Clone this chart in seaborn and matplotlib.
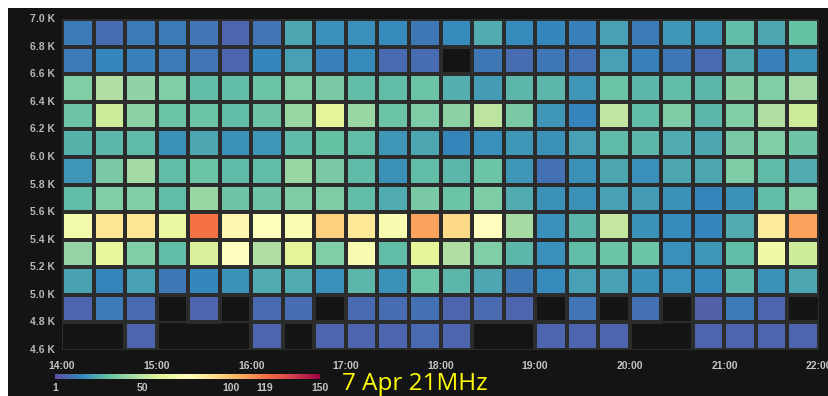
import numpy as np
import pandas as pd
import matplotlib
matplotlib.use("Agg")
import matplotlib.pyplot as plt
from matplotlib.colors import to_rgba
import seaborn as sns

# ---- data -------------------------------------------------------------
time_labels = ["14:00", "15:00", "16:00", "17:00", "18:00",
               "19:00", "20:00", "21:00", "22:00"]
freq_labels = ["7.0 K", "6.8 K", "6.6 K", "6.4 K", "6.2 K", "6.0 K", "5.8 K",
               "5.6 K", "5.4 K", "5.2 K", "5.0 K", "4.8 K", "4.6 K"]
legend_ticks = [1, 50, 100, 119, 150]

# counts per 20-minute bin (14:00 .. 22:00), one list per 200 Hz band, top to bottom
band_6800 = [13, 9, 13, 13, 11, 7, 11, 24, 18, 18, 17, 12, 17, 25, 17, 16, 14, 22, 13, 20, 20, 30, 24, 31]
band_6600 = [13, 16, 14, 13, 11, 7, 16, 22, 14, 17, 8, 9, 0, 12, 9, 12, 10, 22, 14, 12, 8, 24, 14, 19]
band_6400 = [37, 47, 40, 37, 30, 30, 32, 37, 35, 30, 30, 32, 26, 21, 28, 28, 20, 32, 28, 30, 28, 38, 37, 44]
band_6200 = [33, 55, 39, 32, 32, 30, 33, 42, 60, 42, 32, 36, 39, 50, 35, 20, 15, 51, 30, 36, 28, 37, 47, 55]
band_6000 = [27, 28, 29, 19, 24, 19, 20, 29, 31, 30, 20, 24, 15, 18, 20, 19, 22, 29, 28, 25, 24, 35, 37, 33]
band_5800 = [20, 35, 44, 30, 32, 29, 30, 42, 35, 29, 19, 30, 28, 32, 20, 10, 19, 24, 18, 24, 24, 36, 29, 25]
band_5600 = [30, 37, 37, 30, 42, 33, 33, 36, 36, 30, 25, 35, 32, 36, 25, 19, 19, 22, 21, 19, 15, 19, 30, 37]
band_5400 = [68, 88, 88, 64, 119, 80, 74, 72, 95, 86, 70, 108, 92, 76, 45, 18, 28, 52, 19, 17, 16, 25, 85, 108]
band_5200 = [41, 63, 37, 30, 58, 76, 47, 60, 37, 70, 30, 62, 47, 37, 28, 18, 30, 32, 32, 18, 20, 30, 66, 55]
band_5000 = [23, 15, 22, 12, 16, 19, 25, 25, 18, 28, 19, 32, 28, 24, 12, 17, 22, 22, 19, 18, 17, 28, 19, 24]
band_4800 = [7, 13, 8, 0, 7, 0, 8, 9, 0, 8, 9, 10, 7, 8, 7, 0, 11, 0, 10, 0, 6, 13, 7, 0]
band_4600 = [0, 0, 7, 0, 0, 0, 7, 0, 7, 7, 7, 8, 7, 0, 0, 7, 7, 7, 0, 0, 7, 7, 7, 7]

bands = [band_6800, band_6600, band_6400, band_6200, band_6000, band_5800,
         band_5600, band_5400, band_5200, band_5000, band_4800, band_4600]
df = pd.DataFrame(bands, dtype=float)
empty = (df <= 0).to_numpy()
df = df.where(df > 0)          # empty buckets are not drawn

# ---- figure -----------------------------------------------------------
BG = "#141414"
GRID = "#2c2c2c"
LW = 1.6
W, H = 829, 396
fig = plt.figure(figsize=(W / 100, H / 100), dpi=100, facecolor="white")
fig.patches.append(plt.Rectangle((8 / W, 0), 1, 1 - 8 / H, transform=fig.transFigure,
                                 facecolor=BG, edgecolor="none", zorder=-10))

ax = fig.add_axes([62 / W, 1 - 350 / H, 757 / W, 331 / H])
cax = fig.add_axes([55 / W, 1 - 379 / H, 265 / W, 5 / H])
ax.set_facecolor(BG)

sns.heatmap(df, ax=ax, cmap="Spectral_r", vmin=1, vmax=150,
            linewidths=LW, linecolor=GRID,
            cbar_ax=cax, cbar_kws={"orientation": "horizontal", "ticks": legend_ticks})

# empty buckets: no outline of their own, adjacent ones in a row merge
mesh = ax.collections[0]
ec = np.tile(np.array(to_rgba(GRID)), (empty.size, 1))
ec[empty.ravel(), 3] = 0.0
mesh.set_edgecolor(ec)

n_rows, n_cols = df.shape
# row separators and outer frame show through the empty buckets
for yb in range(n_rows + 1):
    ax.axhline(yb, color=GRID, lw=LW, zorder=0.5)
for xb in (0, n_cols):
    ax.axvline(xb, color=GRID, lw=LW, zorder=0.5)

ax.set_xticks(np.arange(0, n_cols + 1, 3))
ax.set_xticklabels(time_labels, rotation=0)
ax.set_yticks(np.arange(0, n_rows + 1))
ax.set_yticklabels(freq_labels, rotation=0)
ax.set_xlim(0, n_cols)
ax.set_ylim(n_rows, 0)
ax.set_xlabel("")
ax.set_ylabel("")
for s in ax.spines.values():
    s.set_visible(False)

ax.tick_params(axis="y", length=0, pad=5, labelsize=7.5, labelcolor="#b8b8b8")
ax.tick_params(axis="x", length=0, pad=8, labelsize=7.5, labelcolor="#c4c4c4")
for t in ax.get_yticklabels() + ax.get_xticklabels():
    t.set_fontfamily("Liberation Sans")
    t.set_fontweight("bold")

cb = mesh.colorbar
cb.outline.set_visible(False)
cax.tick_params(length=0, pad=3, labelsize=7.5, labelcolor="#c4c4c4")
cax.set_xticklabels([str(v) for v in legend_ticks])
for t in cax.get_xticklabels():
    t.set_fontfamily("Liberation Sans")
    t.set_fontweight("bold")

fig.text(342 / W, 1 - 390.5 / H, "7 Apr 21MHz", color="#ffff00", fontsize=17.5,
         fontfamily="Open Sans", ha="left", va="baseline")

fig.savefig("out.png", dpi=100, facecolor=fig.get_facecolor())
